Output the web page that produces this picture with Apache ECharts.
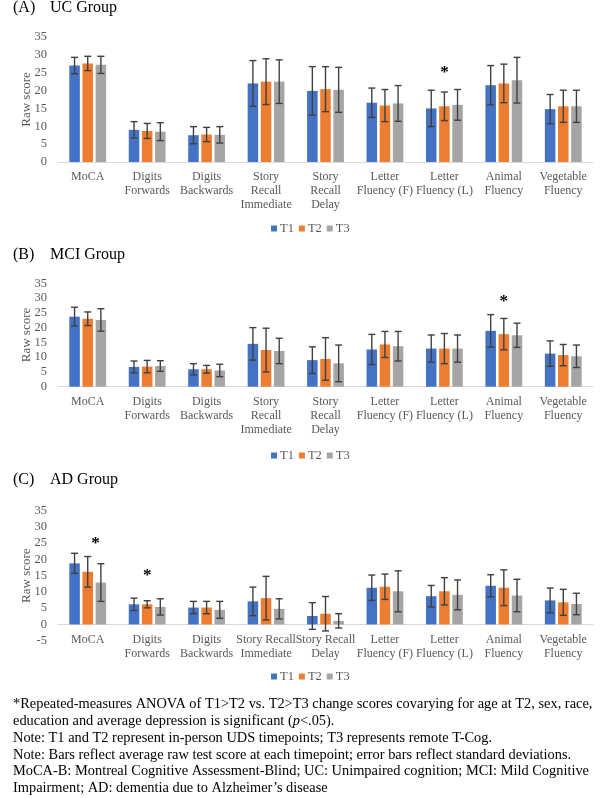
<!DOCTYPE html>
<html><head><meta charset="utf-8">
<script src="https://cdn.jsdelivr.net/npm/echarts@6/dist/echarts.min.js"></script>
<style>html,body{margin:0;padding:0;background:#fff}#c{width:600px;height:798px}</style>
</head><body><div id="c"></div>
<script>
// ---- data ----
const categoriesAB = ['MoCA','Digits\nForwards','Digits\nBackwards','Story\nRecall\nImmediate','Story\nRecall\nDelay','Letter\nFluency (F)','Letter\nFluency (L)','Animal\nFluency','Vegetable\nFluency'];
const categoriesC  = ['MoCA','Digits\nForwards','Digits\nBackwards','Story Recall\nImmediate','Story Recall\nDelay','Letter\nFluency (F)','Letter\nFluency (L)','Animal\nFluency','Vegetable\nFluency'];
const timepoints = ['T1','T2','T3'];

// UC group means / SDs
const ucT1 = [27.0, 9.0, 7.5, 22.0, 19.9, 16.6, 15.0, 21.5, 14.8];
const ucT2 = [27.6, 8.7, 7.7, 22.5, 20.4, 15.8, 15.6, 22.0, 15.6];
const ucT3 = [27.2, 8.5, 7.6, 22.5, 20.2, 16.4, 16.0, 22.9, 15.6];
const ucSD1 = [2.3, 2.3, 2.4, 6.4, 6.8, 4.1, 5.1, 5.5, 4.1];
const ucSD2 = [2.0, 2.1, 2.0, 6.4, 6.3, 4.5, 4.0, 5.4, 4.5];
const ucSD3 = [2.4, 2.5, 2.3, 6.1, 6.3, 5.0, 4.3, 6.4, 4.5];

// MCI group
const mciT1 = [23.7, 6.7, 5.9, 14.5, 9.0, 12.6, 12.9, 18.9, 11.2];
const mciT2 = [23.0, 6.8, 5.9, 12.4, 9.4, 14.3, 12.9, 17.8, 10.7];
const mciT3 = [22.6, 7.0, 5.5, 12.1, 7.9, 13.7, 12.9, 17.4, 10.3];
const mciSD1 = [3.2, 2.0, 1.9, 5.5, 4.5, 5.1, 4.6, 5.5, 4.3];
const mciSD2 = [2.3, 2.1, 1.3, 7.4, 7.2, 4.4, 5.1, 5.3, 3.6];
const mciSD3 = [3.8, 1.8, 2.1, 4.3, 6.2, 5.0, 4.6, 4.1, 3.8];

// AD group
const adT1 = [18.8, 6.2, 5.2, 7.1, 2.6, 11.3, 8.7, 11.9, 7.4];
const adT2 = [16.2, 6.2, 5.2, 8.1, 3.3, 11.6, 10.2, 11.3, 6.8];
const adT3 = [12.9, 5.4, 4.5, 4.8, 1.1, 10.2, 9.1, 8.9, 6.3];
const adSD1 = [3.1, 1.9, 1.9, 4.4, 4.1, 3.9, 3.3, 3.4, 3.8];
const adSD2 = [4.7, 1.1, 1.9, 6.7, 5.3, 3.9, 4.2, 5.5, 4.0];
const adSD3 = [5.8, 2.5, 2.6, 3.1, 2.2, 6.3, 4.6, 5.0, 3.3];

// significance markers: [category index, bar slot (0=T1,1=T2,2=T3), y level]
const sigA = [[6, 1, 25.8]];
const sigB = [[7, 1, 29.7]];
const sigC = [[0, 1.6, 25.5], [1, 1, 15.9]];

const panelTags = ['(A)', '(B)', '(C)'];
const panelTitles = ['UC Group', 'MCI Group', 'AD Group'];

const footnotes = [
  [{t:'*Repeated-measures ANOVA of T1>T2 vs. T2>T3 change scores covarying for age at T2, sex, race,'}],
  [{t:'education and average depression is significant ('},{t:'p',i:true},{t:'<.05).'}],
  [{t:'Note: T1 and T2 represent in-person UDS timepoints; T3 represents remote T-Cog.'}],
  [{t:'Note: Bars reflect average raw test score at each timepoint; error bars reflect standard deviations.'}],
  [{t:'MoCA-B: Montreal Cognitive Assessment-Blind; UC: Unimpaired cognition; MCI: Mild Cognitive'}],
  [{t:'Impairment; AD: dementia due to Alzheimer\u2019s disease'}]
];

// ---- styling ----
const FONT = '"Liberation Serif", "Times New Roman", serif';
const COLORS = ['#4472C4', '#ED7D31', '#A5A5A5'];
const BAR_FRAC = 0.177, GAP = 0.25;
const LBL = '#595959';

const panels = [
  {cats: categoriesAB, means: [ucT1, ucT2, ucT3], sds: [ucSD1, ucSD2, ucSD3], sig: sigA, min: 0, max: 35,
   grid: {left: 58, right: 7, top: 37, height: 125}, legendTop: 217, titleY: 9, labelMargin: 8},
  {cats: categoriesAB, means: [mciT1, mciT2, mciT3], sds: [mciSD1, mciSD2, mciSD3], sig: sigB, min: 0, max: 35,
   grid: {left: 58, right: 7, top: 283.3, height: 103.4}, legendTop: 444, titleY: 256, labelMargin: 8},
  {cats: categoriesC, means: [adT1, adT2, adT3], sds: [adSD1, adSD2, adSD3], sig: sigC, min: -5, max: 35,
   grid: {left: 58, right: 7, top: 510.7, height: 130}, legendTop: 665, titleY: 481, labelMargin: -8}
];

function errRender(k) {
  return function (params, api) {
    const c = api.value(0), m = api.value(1), s = api.value(2);
    const band = api.size([1, 0])[0];
    const w = band * BAR_FRAC;
    const off = (k - 1) * w * (1 + GAP);
    const top = api.coord([c, m + s]);
    const bot = api.coord([c, m - s]);
    const x = top[0] + off;
    const st = {stroke: '#404040', lineWidth: 1.4};
    return {type: 'group', children: [
      {type: 'line', shape: {x1: x, y1: top[1], x2: x, y2: bot[1]}, style: st},
      {type: 'line', shape: {x1: x - 3.5, y1: top[1], x2: x + 3.5, y2: top[1]}, style: st},
      {type: 'line', shape: {x1: x - 3.5, y1: bot[1], x2: x + 3.5, y2: bot[1]}, style: st}
    ]};
  };
}
function sigRender(params, api) {
  const c = api.value(0), slot = api.value(1), lvl = api.value(2);
  const band = api.size([1, 0])[0];
  const w = band * BAR_FRAC;
  const p = api.coord([c, lvl]);
  return {type: 'text', x: p[0] + (slot - 1) * w * (1 + GAP), y: p[1] + 2.5,
    style: {text: '*', font: 'bold 17px ' + FONT, fill: '#000', align: 'center', verticalAlign: 'middle'}};
}

const grids = [], xAxes = [], yAxes = [], series = [], legends = [], graphics = [];
panels.forEach((P, gi) => {
  grids.push(P.grid);
  xAxes.push({type: 'category', gridIndex: gi, data: P.cats,
    axisTick: {show: false}, axisLine: {onZero: true, lineStyle: {color: '#d9d9d9', width: 1}},
    axisLabel: {interval: 0, color: LBL, fontFamily: FONT, fontSize: 12, lineHeight: 14, margin: P.labelMargin}});
  yAxes.push({type: 'value', gridIndex: gi, min: P.min, max: P.max, interval: 5,
    splitLine: {show: false}, axisLine: {show: false}, axisTick: {show: false},
    axisLabel: {color: LBL, fontFamily: FONT, fontSize: 12.5, margin: 11},
    name: 'Raw score', nameLocation: 'middle', nameGap: 24.5, nameMoveOverlap: false,
    nameTextStyle: {color: LBL, fontFamily: FONT, fontSize: 13}});
  timepoints.forEach((tp, k) => {
    series.push({type: 'bar', name: tp, xAxisIndex: gi, yAxisIndex: gi, data: P.means[k],
      barWidth: (BAR_FRAC * 100) + '%', barGap: (GAP * 100) + '%',
      itemStyle: {color: COLORS[k]}, silent: true});
  });
  timepoints.forEach((tp, k) => {
    series.push({type: 'custom', xAxisIndex: gi, yAxisIndex: gi, renderItem: errRender(k),
      data: P.means[k].map((m, i) => [i, m, P.sds[k][i]]), z: 5, silent: true});
  });
  series.push({type: 'custom', xAxisIndex: gi, yAxisIndex: gi, renderItem: sigRender, data: P.sig, z: 6, silent: true});
  legends.push({data: timepoints, top: P.legendTop, left: 266, itemWidth: 6, itemHeight: 6, itemGap: 5,
    icon: 'rect', textStyle: {color: LBL, fontFamily: FONT, fontSize: 12.5, padding: [0, 0, 0, -2]}, selectedMode: false});
  graphics.push({type: 'text', left: 13, top: P.titleY - 9, style: {text: panelTags[gi], font: '16px ' + FONT, fill: '#000'}});
  graphics.push({type: 'text', left: 50, top: P.titleY - 9, style: {text: panelTitles[gi], font: '16px ' + FONT, fill: '#000'}});
});

const lineY0 = 697.5, lineStep = 16.8;
footnotes.forEach((parts, li) => {
  const rich = {n: {font: '14.4px ' + FONT, fill: '#000'}, i: {font: 'italic 14.4px ' + FONT, fill: '#000'}};
  const text = parts.map(p => '{' + (p.i ? 'i' : 'n') + '|' + p.t + '}').join('');
  graphics.push({type: 'text', left: 13, top: lineY0 + li * lineStep,
    style: {text: text, rich: rich, font: '14.4px ' + FONT, fill: '#000'}});
});

const chart = echarts.init(document.getElementById('c'), null, {renderer: 'canvas'});
chart.setOption({
  animation: false,
  backgroundColor: '#fff',
  grid: grids, xAxis: xAxes, yAxis: yAxes, series: series, legend: legends, graphic: graphics
});
</script>
</body></html>
